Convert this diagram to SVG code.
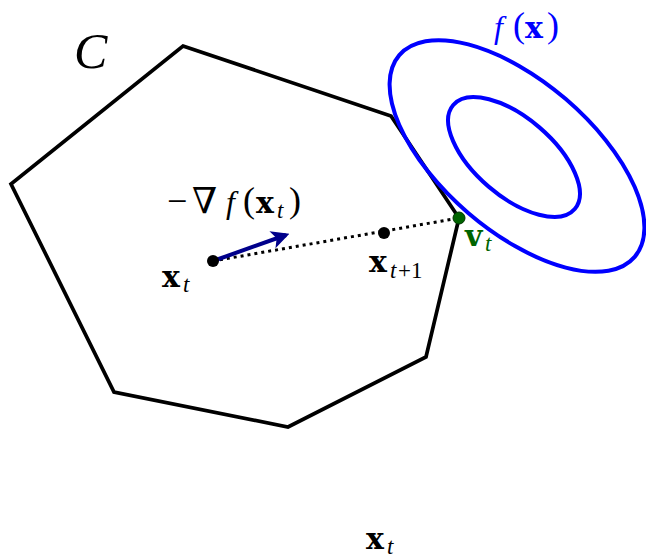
<svg xmlns="http://www.w3.org/2000/svg" width="646" height="559" viewBox="0 0 646 559">
<style>
.m{font-family:"Liberation Serif","DejaVu Serif",serif;font-size:30px}
.b{font-family:"DejaVu Serif",serif;font-weight:bold;font-size:30px}
.i{font-style:italic;font-size:32px}
.s{font-size:23px;font-style:italic}
.r{font-size:23px}
.p{font-size:36px}
</style>
<defs>
<marker id="ah" viewBox="0 0 10 10" refX="8" refY="5" markerWidth="4.5" markerHeight="4.5" orient="auto" markerUnits="strokeWidth">
<path d="M0,0 L10,5 L0,10 L2.5,5 Z" fill="#00008b"/>
</marker>
</defs>
<rect width="646" height="559" fill="#fff"/>
<g id="set-C">
<polygon points="183,46 391,116 459,218 426,357 288,427 114,392 11,184" fill="none" stroke="#000" stroke-width="3.7" stroke-linejoin="miter"/>
<text class="m" x="74" y="68" style="font-size:50px;font-style:italic">C</text>
</g>
<g id="level-sets">
<ellipse cx="517" cy="156" rx="155" ry="75" transform="rotate(40.6 517 156)" fill="none" stroke="#0000ff" stroke-width="4"/>
<ellipse cx="514" cy="157" rx="80" ry="39" transform="rotate(40.6 514 157)" fill="none" stroke="#0000ff" stroke-width="4"/>
<text class="m" y="38" fill="#0000ff"><tspan class="i" x="494">f</tspan><tspan class="p" x="513" dy="-1">(</tspan><tspan class="b" x="525" dy="1">x</tspan><tspan class="p" x="547" dy="-1">)</tspan></text>
</g>
<g id="connectors">
<line x1="213" y1="261" x2="459" y2="218" stroke="#000" stroke-width="3" stroke-dasharray="3,4"/>
<line x1="213" y1="261" x2="286" y2="235" stroke="#00008b" stroke-width="4" marker-end="url(#ah)"/>
</g>
<g id="node-xt">
<circle cx="213" cy="261" r="6" fill="#000"/>
<text class="m" y="287"><tspan class="b" x="162">x</tspan><tspan class="s" x="183" dy="5">t</tspan></text>
</g>
<g id="gradient-label">
<text class="m" y="213"><tspan x="167" style="font-size:36px">−</tspan><tspan x="192" style="font-family:'DejaVu Serif',serif;font-size:36px">∇</tspan><tspan class="i" x="226">f</tspan><tspan class="p" x="243" dy="-1">(</tspan><tspan class="b" x="256" dy="1">x</tspan><tspan class="s" x="277" dy="5">t</tspan><tspan class="p" x="289" dy="-6">)</tspan></text>
</g>
<g id="node-xt1">
<circle cx="384" cy="233" r="6" fill="#000"/>
<text class="m" y="272"><tspan class="b" x="369">x</tspan><tspan class="s" x="390" dy="6">t</tspan><tspan class="r" x="398">+1</tspan></text>
</g>
<g id="node-vt">
<circle cx="459" cy="218" r="6" fill="#006400" stroke="#003300" stroke-width="1"/>
<text class="m" y="246" fill="#006400"><tspan class="b" x="465">v</tspan><tspan class="s" x="485" dy="5">t</tspan></text>
</g>
<g id="bottom-label">
<text class="m" y="549"><tspan class="b" x="366">x</tspan><tspan class="s" x="387" dy="5">t</tspan></text>
</g>
</svg>
